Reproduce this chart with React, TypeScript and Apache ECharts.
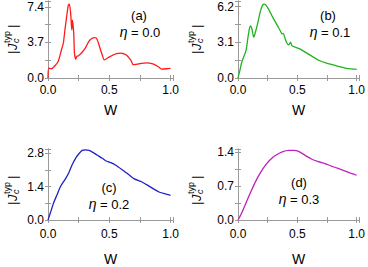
import React, { useEffect, useRef } from 'react';
import * as echarts from 'echarts';

const W_A = [0, 0.006, 0.028, 0.056, 0.083, 0.11, 0.125, 0.138, 0.152, 0.166, 0.174, 0.185, 0.194, 0.199, 0.21, 0.216, 0.227, 0.235, 0.249, 0.277, 0.304, 0.332, 0.36, 0.382, 0.40, 0.42, 0.442, 0.459, 0.497, 0.553, 0.594, 0.636, 0.677, 0.696, 0.746, 0.801, 0.856, 0.898, 0.926, 0.967, 1.0];
const J_A = [0, 1.03, 0.96, 1.27, 1.72, 2.93, 3.61, 4.99, 6.37, 7.57, 7.68, 6.71, 4.99, 6.02, 4.65, 2.58, 1.96, 2.24, 2.31, 2.65, 3.10, 3.79, 4.13, 4.2, 4.03, 3.27, 2.41, 1.89, 2.17, 2.51, 2.58, 2.41, 1.82, 1.38, 1.48, 1.58, 1.48, 1.2, 0.93, 0.96, 1.0];

const W_B = [0, 0.014, 0.033, 0.055, 0.069, 0.083, 0.097, 0.105, 0.116, 0.133, 0.144, 0.166, 0.188, 0.207, 0.221, 0.235, 0.262, 0.29, 0.318, 0.345, 0.373, 0.381, 0.392, 0.409, 0.428, 0.442, 0.456, 0.483, 0.525, 0.58, 0.635, 0.69, 0.746, 0.801, 0.856, 0.912, 0.967, 1.0];
const J_B = [0, 0.58, 1.44, 2.02, 2.45, 3.46, 4.33, 4.53, 4.33, 3.55, 3.89, 4.76, 5.77, 6.34, 6.43, 6.34, 5.91, 5.34, 4.82, 4.33, 3.84, 3.89, 3.6, 3.09, 2.88, 3.11, 2.8, 2.68, 2.51, 2.16, 1.82, 1.5, 1.3, 1.15, 0.98, 0.84, 0.78, 0.75];

const W_C = [0, 0.019, 0.047, 0.074, 0.101, 0.142, 0.17, 0.197, 0.225, 0.252, 0.279, 0.307, 0.334, 0.362, 0.403, 0.444, 0.471, 0.512, 0.553, 0.608, 0.663, 0.704, 0.759, 0.814, 0.868, 0.91, 0.964, 1.0];
const J_C = [0, 0.29, 0.73, 1.06, 1.39, 1.72, 1.98, 2.31, 2.58, 2.77, 2.91, 2.93, 2.91, 2.84, 2.71, 2.58, 2.48, 2.40, 2.29, 2.09, 1.88, 1.72, 1.61, 1.45, 1.28, 1.16, 1.08, 1.03];

const W_D = [0, 0.028, 0.069, 0.11, 0.152, 0.193, 0.235, 0.276, 0.318, 0.373, 0.428, 0.47, 0.511, 0.566, 0.622, 0.677, 0.732, 0.787, 0.843, 0.898, 0.953, 1.0];
const J_D = [0, 0.13, 0.36, 0.59, 0.81, 0.99, 1.14, 1.25, 1.33, 1.40, 1.43, 1.43, 1.41, 1.33, 1.25, 1.20, 1.16, 1.11, 1.06, 1.01, 0.96, 0.92];

const X_TICK_LABELS = [0, 0.5, 1.0];
const Y_TICKS_A = [0, 3.7, 7.4];
const Y_TICKS_B = [0, 3.1, 6.2];
const Y_TICKS_C = [0, 1.4, 2.8];
const Y_TICKS_D = [0, 0.7, 1.4];

const PANEL_LABELS = ['(a)', '(b)', '(c)', '(d)'];
const ETA_VALUES = ['0.0', '0.1', '0.2', '0.3'];

const FONT = '"Liberation Sans", Arial, Helvetica, sans-serif';
const FRAME = '#9a9a9a';

const panels = [
  { w: W_A, j: J_A, ticks: Y_TICKS_A, max: 8.0, color: '#ff1a1a', grid: { left: 48, top: 1, width: 125, height: 77 }, nameGap: 25, labelMargin: 6, yName: [12, 37], ann: [139, 15, 140, 32] },
  { w: W_B, j: J_B, ticks: Y_TICKS_B, max: 6.7, color: '#1fb41f', grid: { left: 238, top: 1, width: 124, height: 77 }, nameGap: 25, labelMargin: 6, yName: [196, 37], ann: [328, 15, 330, 32] },
  { w: W_C, j: J_C, ticks: Y_TICKS_C, max: 2.97, color: '#2020c8', grid: { left: 48, top: 149, width: 125, height: 75 }, nameGap: 32, labelMargin: 8, yName: [12, 188], ann: [109, 187, 109, 204] },
  { w: W_D, j: J_D, ticks: Y_TICKS_D, max: 1.46, color: '#c020c0', grid: { left: 238, top: 149, width: 124, height: 75 }, nameGap: 32, labelMargin: 8, yName: [196, 188], ann: [299, 182, 299, 199] },
];

const near = (list: number[], v: number) => list.some((l) => Math.abs(l - v) < 1e-6);

function yNameGroup(cx: number, cy: number) {
  const base = { fill: '#000', fontFamily: FONT, verticalAlign: 'middle', textVerticalAlign: 'middle', align: 'left', textAlign: 'left' };
  return {
    type: 'group',
    x: cx,
    y: cy,
    rotation: Math.PI / 2,
    silent: true,
    children: [
      { type: 'text', style: { ...base, text: '|', x: -17, y: 0, fontSize: 13 } },
      { type: 'text', style: { ...base, text: 'J', x: -13, y: 0, fontSize: 13, fontStyle: 'italic' } },
      { type: 'text', style: { ...base, text: 'typ', x: -6, y: -5, fontSize: 9 } },
      { type: 'text', style: { ...base, text: 'c', x: -6, y: 4, fontSize: 9, fontStyle: 'italic' } },
      { type: 'text', style: { ...base, text: '|', x: 9, y: 0, fontSize: 13 } },
    ],
  };
}

export default function App() {
  const ref = useRef<HTMLDivElement>(null);
  useEffect(() => {
    if (!ref.current) return;
    const chart = echarts.init(ref.current, undefined, { renderer: 'svg' });
    const grids: any[] = [];
    const xAxes: any[] = [];
    const yAxes: any[] = [];
    const series: any[] = [];
    const graphics: any[] = [];
    const axisLine = { show: true, lineStyle: { color: FRAME, width: 1 } };
    const axisTick = { show: true, inside: true, length: 3, lineStyle: { color: FRAME, width: 1 } };
    panels.forEach((p, i) => {
      grids.push({ ...p.grid, containLabel: false });
      const yInterval = p.ticks[1] / 2;
      xAxes.push({
        type: 'value', gridIndex: i, min: 0, max: 1.02, interval: 0.25, position: 'bottom',
        axisLine, axisTick, splitLine: { show: false },
        axisLabel: { margin: p.labelMargin, fontSize: 12, color: '#000', fontFamily: FONT, formatter: (v: number) => (near(X_TICK_LABELS, v) ? v.toFixed(1) : ''), showMaxLabel: true },
        name: 'W', nameLocation: 'middle', nameGap: p.nameGap, nameTextStyle: { fontSize: 14, color: '#000', fontFamily: FONT },
      });
      xAxes.push({
        type: 'value', gridIndex: i, min: 0, max: 1.02, interval: 0.25, position: 'top',
        axisLine, axisTick, splitLine: { show: false }, axisLabel: { show: false },
      });
      yAxes.push({
        type: 'value', gridIndex: i, min: 0, max: p.max, interval: yInterval, position: 'left',
        axisLine, axisTick, splitLine: { show: false },
        axisLabel: { margin: 4, fontSize: 12, color: '#000', fontFamily: FONT, formatter: (v: number) => (near(p.ticks, v) ? v.toFixed(1) : '') },
      });
      yAxes.push({
        type: 'value', gridIndex: i, min: 0, max: p.max, interval: yInterval, position: 'right',
        axisLine, axisTick, splitLine: { show: false }, axisLabel: { show: false },
      });
      series.push({
        type: 'line', xAxisIndex: 2 * i, yAxisIndex: 2 * i,
        data: p.w.map((w, k) => [w, p.j[k]]),
        showSymbol: false, smooth: 0.25,
        lineStyle: { color: p.color, width: 1.3 },
        itemStyle: { color: p.color },
      });
      graphics.push(yNameGroup(p.yName[0], p.yName[1]));
      graphics.push({
        type: 'text', silent: true,
        style: { text: PANEL_LABELS[i], x: p.ann[0], y: p.ann[1], fill: '#000', fontSize: 13, fontFamily: FONT, align: 'center', textAlign: 'center', verticalAlign: 'middle', textVerticalAlign: 'middle' },
      });
      graphics.push({
        type: 'text', silent: true,
        style: {
          text: '{i|η} = ' + ETA_VALUES[i], x: p.ann[2], y: p.ann[3], fill: '#000', fontSize: 13, fontFamily: FONT,
          align: 'center', textAlign: 'center', verticalAlign: 'middle', textVerticalAlign: 'middle',
          rich: { i: { fontStyle: 'italic', fontSize: 14, fill: '#000', fontFamily: FONT } },
        },
      });
    });
    chart.setOption({
      animation: false,
      backgroundColor: '#fff',
      grid: grids,
      xAxis: xAxes,
      yAxis: yAxes,
      series,
      graphic: graphics,
    });
    return () => chart.dispose();
  }, []);
  return <div ref={ref} style={{ position: 'fixed', left: 0, top: 0, width: 368, height: 267 }} />;
}
